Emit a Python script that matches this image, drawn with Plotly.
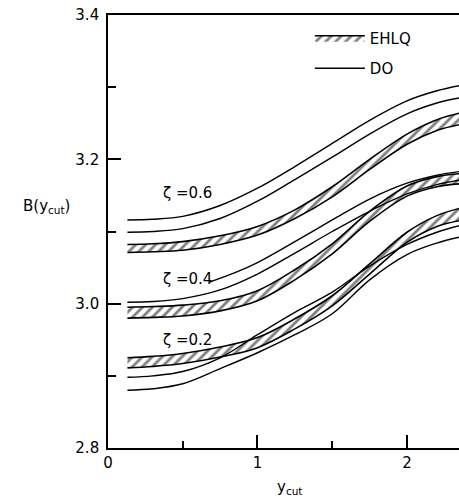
import plotly.graph_objects as go

# ---- data ----
x_grid = [0.13, 0.3, 0.5, 0.75, 1.0, 1.25, 1.5, 1.75, 2.0, 2.2, 2.35]

# zeta = 0.6
do06_upper = [3.116, 3.117, 3.121, 3.136, 3.160, 3.190, 3.222, 3.254, 3.281, 3.295, 3.302]
do06_lower = [3.099, 3.100, 3.104, 3.118, 3.142, 3.172, 3.203, 3.235, 3.263, 3.278, 3.285]
ehlq06_lo = [3.071, 3.072, 3.074, 3.082, 3.095, 3.118, 3.148, 3.186, 3.221, 3.240, 3.248]
ehlq06_hi = [3.082, 3.083, 3.086, 3.094, 3.107, 3.130, 3.162, 3.200, 3.235, 3.255, 3.264]

# zeta = 0.4
x_do04_a = [0.68, 0.85, 1.0, 1.25, 1.5, 1.75, 2.0, 2.2, 2.35]
do04_a = [3.030, 3.043, 3.057, 3.086, 3.116, 3.145, 3.167, 3.178, 3.183]
do04_b = [3.002, 3.003, 3.007, 3.019, 3.041, 3.070, 3.100, 3.128, 3.152, 3.165, 3.171]
ehlq04_lo = [2.980, 2.981, 2.983, 2.990, 3.004, 3.033, 3.069, 3.114, 3.149, 3.162, 3.166]
ehlq04_hi = [2.995, 2.996, 2.998, 3.004, 3.018, 3.047, 3.083, 3.128, 3.163, 3.176, 3.180]

# zeta = 0.2
do02_upper = [2.898, 2.900, 2.906, 2.925, 2.957, 2.988, 3.016, 3.052, 3.082, 3.099, 3.108]
do02_lower = [2.880, 2.882, 2.889, 2.910, 2.932, 2.957, 2.986, 3.033, 3.068, 3.084, 3.092]
ehlq02_lo = [2.911, 2.913, 2.917, 2.926, 2.939, 2.965, 2.997, 3.041, 3.085, 3.107, 3.115]
ehlq02_hi = [2.925, 2.927, 2.931, 2.940, 2.953, 2.979, 3.011, 3.055, 3.099, 3.122, 3.132]

zeta_labels = ["ζ =0.6", "ζ =0.4", "ζ =0.2"]
zeta_label_x = [0.53, 0.53, 0.53]
zeta_label_y = [3.153, 3.034, 2.950]

y_ticks = [2.8, 3.0, 3.2, 3.4]
y_tick_text = ["2.8", "3.0", "3.2", "3.4"]
y_minor = [2.9, 3.1, 3.3]
x_ticks = [0, 1, 2]
x_tick_text = ["0", "1", "2"]
x_minor = [0.5, 1.5]

FONT = "DejaVu Sans"
LW = 1.6

fig = go.Figure()

bands = [(ehlq06_lo, ehlq06_hi, True), (ehlq04_lo, ehlq04_hi, False), (ehlq02_lo, ehlq02_hi, False)]
for lo, hi, show in bands:
    fig.add_trace(go.Scatter(x=x_grid, y=lo, mode="lines", line=dict(color="black", width=LW, shape="spline"),
                             showlegend=False, hoverinfo="skip"))
    fig.add_trace(go.Scatter(x=x_grid, y=hi, mode="lines", line=dict(color="black", width=LW, shape="spline"),
                             fill="tonexty", fillcolor="white",
                             fillpattern=dict(shape="/", size=7, solidity=0.4, fgcolor="black", bgcolor="white"),
                             name="EHLQ", legendgroup="ehlq", showlegend=show, hoverinfo="skip"))

do_lines = [(x_grid, do06_upper, True), (x_grid, do06_lower, False), (x_do04_a, do04_a, False),
            (x_grid, do04_b, False), (x_grid, do02_upper, False), (x_grid, do02_lower, False)]
for xs, ys, show in do_lines:
    fig.add_trace(go.Scatter(x=xs, y=ys, mode="lines", line=dict(color="black", width=1.4, shape="spline"),
                             name="DO", legendgroup="do", showlegend=show, hoverinfo="skip"))

for t, xx, yy in zip(zeta_labels, zeta_label_x, zeta_label_y):
    fig.add_annotation(x=xx, y=yy, text=t, showarrow=False, font=dict(family=FONT, size=15, color="black"),
                       xanchor="center", yanchor="middle")

fig.add_annotation(xref="paper", yref="paper", x=-0.174, y=0.557, text="B(y<sub>cut</sub>)", showarrow=False,
                   font=dict(family=FONT, size=15, color="black"), xanchor="center", yanchor="middle")
fig.add_annotation(xref="paper", yref="paper", x=0.518, y=-0.092, text="y<sub>cut</sub>", showarrow=False,
                   font=dict(family=FONT, size=15, color="black"), xanchor="center", yanchor="middle")

fig.update_layout(
    width=459, height=499,
    margin=dict(l=108, r=0, t=15, b=51),
    paper_bgcolor="white", plot_bgcolor="white",
    font=dict(family=FONT, size=15, color="black"),
    legend=dict(x=0.575, y=0.985, xanchor="left", yanchor="top", bgcolor="rgba(0,0,0,0)",
                tracegroupgap=8, itemwidth=50, font=dict(family=FONT, size=15, color="black")),
    xaxis=dict(range=[0, 2.348], showgrid=False, zeroline=False, showline=True, linecolor="black",
               linewidth=LW, mirror=True, ticks="inside", ticklen=13, tickwidth=LW, tickcolor="black",
               tickvals=x_ticks, ticktext=x_tick_text,
               minor=dict(tickvals=x_minor, ticks="inside", ticklen=7, tickwidth=LW, tickcolor="black")),
    yaxis=dict(range=[2.8, 3.4], showgrid=False, zeroline=False, showline=True, linecolor="black",
               linewidth=LW, ticks="inside", ticklen=13, tickwidth=LW, tickcolor="black",
               tickvals=y_ticks, ticktext=y_tick_text, ticklabelstandoff=4,
               minor=dict(tickvals=y_minor, ticks="inside", ticklen=8, tickwidth=LW, tickcolor="black")),
)

fig.write_html("out.html", config={"displayModeBar": False},
               post_script="document.body.style.margin='0';document.body.style.overflow='hidden';")
